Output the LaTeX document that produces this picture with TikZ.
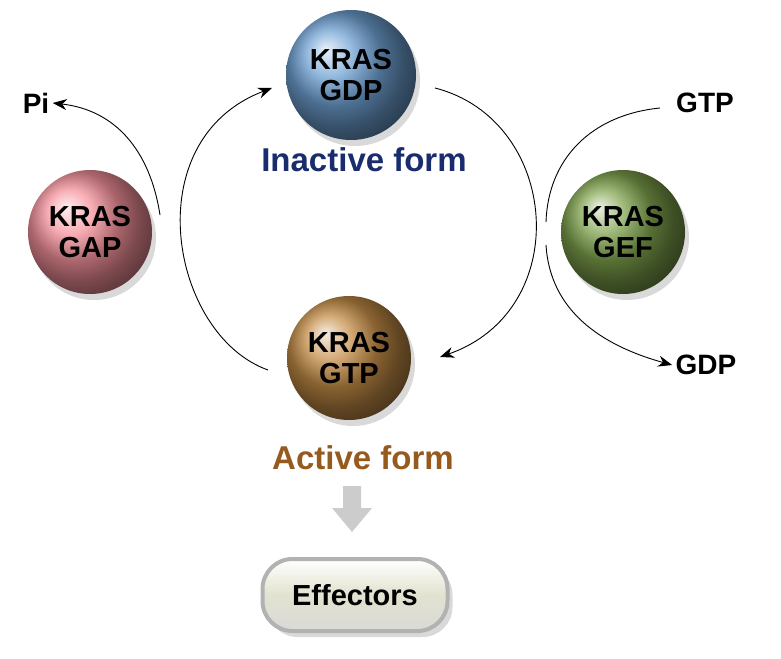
\documentclass[tikz,border=0pt]{standalone}
\usepackage{fontspec}
\setmainfont{Liberation Sans}
\usetikzlibrary{arrows.meta,shadows}
\definecolor{cblue}{RGB}{110,160,210}
\definecolor{cpink}{RGB}{245,145,155}
\definecolor{cgreen}{RGB}{125,160,75}
\definecolor{cbrown}{RGB}{195,140,70}
\definecolor{inact}{RGB}{25,45,110}
\definecolor{act}{RGB}{150,90,30}
\begin{document}
\begin{tikzpicture}[x=1pt,y=-1pt,
  ball/.style={circle,minimum size=124pt,inner sep=0pt,shading=ball,align=center,font=\bfseries\fontsize{29}{31}\selectfont,text=black,drop shadow={shadow xshift=4pt,shadow yshift=-6pt,opacity=0.3}},
  lab/.style={font=\bfseries\fontsize{28}{30}\selectfont},
  arr/.style={-{Stealth[length=14pt,width=11pt]},line width=0.9pt},
  ln/.style={line width=0.9pt}]
\useasboundingbox (0,0) rectangle (781,658);
\node[ball,ball color=cblue,minimum size=130pt] (gdp) at (351,75) {KRAS\\GDP};
\node[ball,ball color=cpink] (gap) at (90,232) {KRAS\\GAP};
\node[ball,ball color=cgreen] (gef) at (623,232) {KRAS\\GEF};
\node[ball,ball color=cbrown] (gtp) at (349,358) {KRAS\\GTP};
\node[font=\bfseries\fontsize{33}{35}\selectfont,text=inact] (inl) at (364,160) {Inactive form};
\node[font=\bfseries\fontsize{33}{35}\selectfont,text=act] (acl) at (363,458) {Active form};
\node[lab] (pi) at (36,103) {Pi};
\node[lab] (gtpin) at (705,103) {GTP};
\node[lab] (gdpout) at (706,365) {GDP};
\node[draw=gray!60,line width=4pt,rounded corners=30pt,minimum width=185pt,minimum height=72pt,
  top color=white,bottom color=gray!30,middle color=yellow!25!gray!30,font=\bfseries\fontsize{29}{31}\selectfont,
  drop shadow={shadow xshift=5pt,shadow yshift=-6pt,opacity=0.3}] (eff) at (355,595) {Effectors};
\coordinate (a1) at (268,370);
\coordinate (a2) at (272,88);
\draw[arr] (a1) .. controls (170,335) and (135,140) .. (a2);
\coordinate (p1) at (160,215);
\draw[arr] (p1) .. controls (150,150) and (115,110) .. (pi.east);
\coordinate (b1) at (435,88);
\coordinate (b2) at (440,357);
\draw[arr] (b1) .. controls (560,120) and (575,310) .. (b2);
\coordinate (g1) at (660,108);
\coordinate (g2) at (546,222);
\draw[ln] (g1) .. controls (590,115) and (548,160) .. (g2);
\coordinate (d1) at (546,245);
\draw[arr] (d1) .. controls (550,310) and (600,345) .. (gdpout.west);
\fill[gray!40] (343,486) -- (361,486) -- (361,508) -- (372,508) -- (352,532) -- (332,508) -- (343,508) -- cycle;
\end{tikzpicture}
\end{document}
